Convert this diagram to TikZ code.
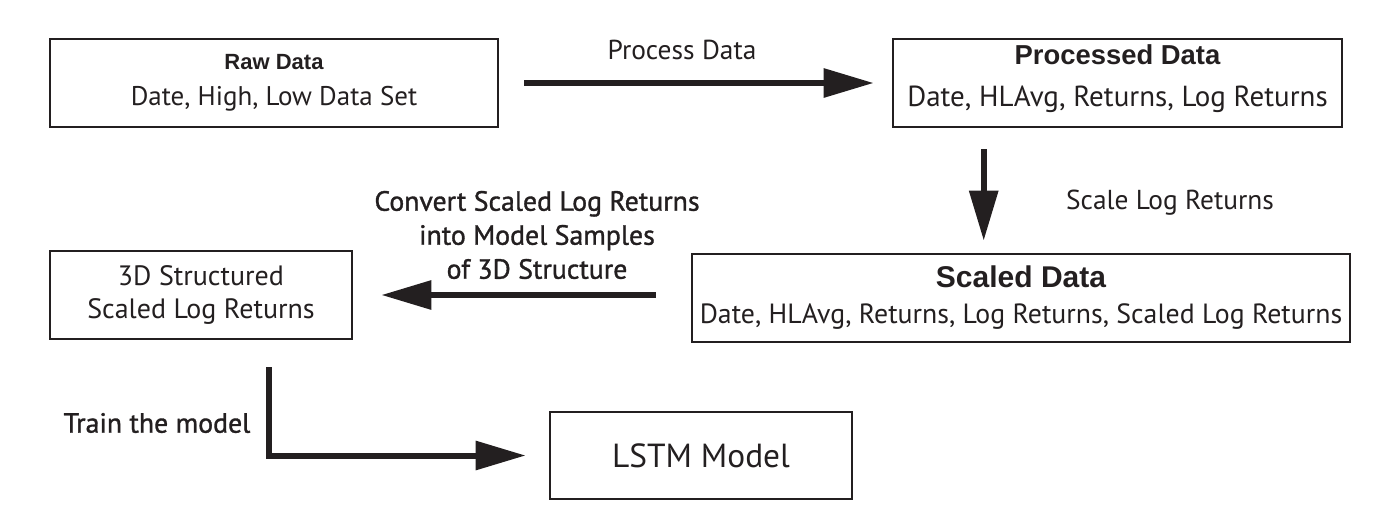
\documentclass[tikz,border=0pt]{standalone}
\usepackage{fontspec}
\setmainfont{PT Sans}
\newfontfamily\headfont{Liberation Sans}
\newfontfamily\semifont[FakeBold=1.2]{PT Sans}
\usetikzlibrary{arrows.meta, positioning}
\definecolor{inkcolor}{HTML}{231F20}

\begin{document}
\begin{tikzpicture}[
  x=0.5pt, y=-0.5pt, align=center,
  every node/.style={text=inkcolor},
]

\tikzset{
  databox/.style={rectangle, draw=inkcolor, line width=1.3pt, inner sep=0pt,
    minimum height=44pt, font=\fontsize{13.5}{18}\selectfont},
  flowline/.style={-{Triangle[length=25pt, width=14pt]}, draw=inkcolor, line width=3pt},
  flowlabel/.style={font=\fontsize{13.7}{17}\selectfont},
  semilabel/.style={font=\semifont\fontsize{13.9}{17}\selectfont},
}

\useasboundingbox (0,0) rectangle (1400,525);

% ---- top row ----
\node[databox, minimum width=224pt] (raw) at (274,83)
  {{\headfont\bfseries\fontsize{11}{11}\selectfont Raw Data}\\ Date, High, Low Data Set};
\node[databox, minimum width=224.5pt, text depth=7pt, font=\fontsize{14.5}{18}\selectfont] (proc) at (1117.5,83)
  {{\headfont\bfseries\fontsize{13.7}{13.7}\selectfont Processed Data}\\[3pt] Date, HLAvg, Returns, Log Returns};

\draw[flowline, shorten <=12.5pt, shorten >=9pt] (raw) -- (proc);
\node[flowlabel] (lblprocess) at (682,50) {Process Data};

% ---- middle row ----
\node[databox, minimum width=329pt, font=\fontsize{13.9}{18}\selectfont] (scaled) at (1021,298)
  {{\headfont\bfseries\fontsize{15}{15}\selectfont Scaled Data}\\ Date, HLAvg, Returns, Log Returns, Scaled Log Returns};
\node[databox, minimum width=151pt, font=\fontsize{14}{16.5}\selectfont] (structured) at (201,295)
  {3D Structured\\Scaled Log Returns};

\coordinate (scaletop) at ([xshift=46pt]proc.south west);
\draw[flowline, shorten <=10.5pt, shorten >=6pt] (scaletop) -- (scaletop |- scaled.north);
\node[flowlabel] (lblscale) at (1170,203) {Scale Log Returns};

\draw[flowline, shorten <=17.5pt, shorten >=14pt] (scaled.west |- structured.east) -- (structured.east);
\node[semilabel] (lblconvert) at (537,235)
  {Convert Scaled Log Returns\\into Model Samples\\of 3D Structure};

% ---- bottom row ----
\node[databox, minimum width=151pt, minimum height=43.5pt, font=\fontsize{16.7}{16.7}\selectfont] (lstm) at (701,455.5)
  {LSTM Model};

\coordinate (trainstart) at ([xshift=110pt, yshift=-13.5pt]structured.south west);
\draw[flowline, shorten >=11.5pt] (trainstart) |- (lstm.west);
\node[semilabel] (lbltrain) at (157,423) {Train the model};

\end{tikzpicture}
\end{document}
